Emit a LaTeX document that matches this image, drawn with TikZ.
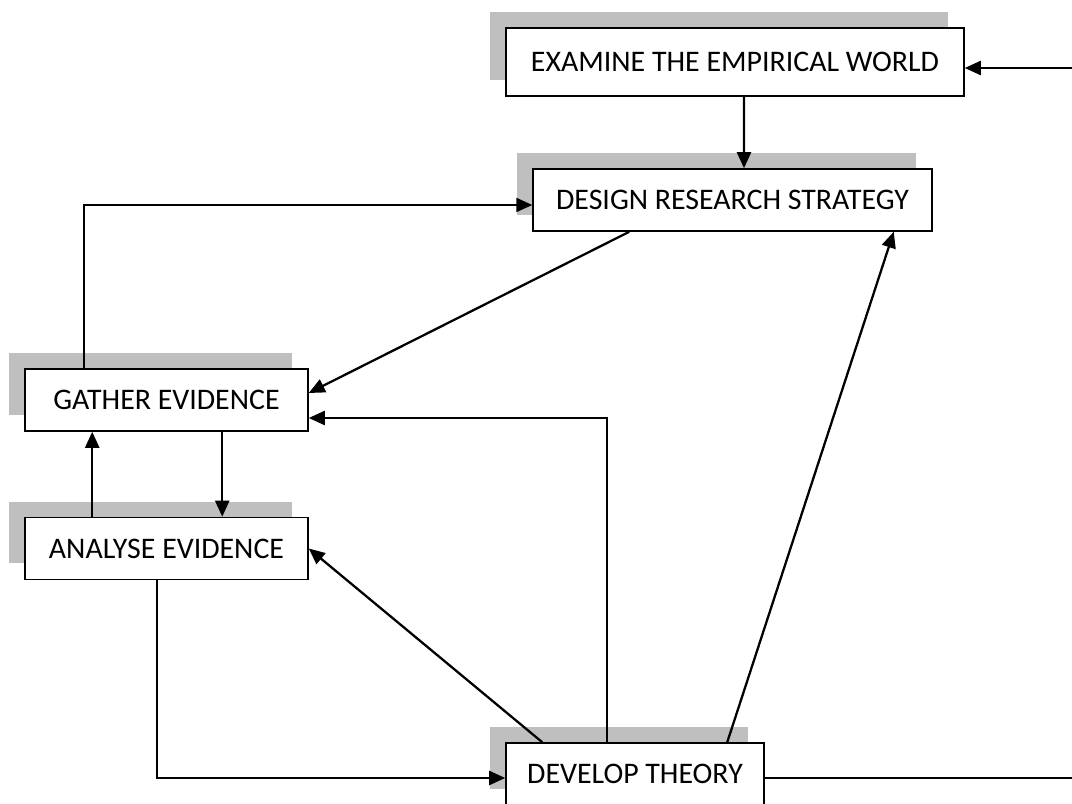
\documentclass[tikz,border=0pt]{standalone}
\usepackage{fontspec}
\setmainfont{Carlito}
\usetikzlibrary{calc}
\usetikzlibrary{shapes,arrows.meta,positioning,shadows}

\begin{document}
\begin{tikzpicture}[x=0.02cm, y=-0.02cm, auto]
    % Define block styles
    \tikzstyle{process} = [rectangle, minimum height=1.24cm, text centered, draw=black, line width=0.9pt, fill=white, font=\fontsize{17}{20}\selectfont, general shadow={fill=black!25, shadow xshift=-0.32cm, shadow yshift=0.32cm}]
    \tikzstyle{arrow} = [line width=1.3pt, -{Triangle[length=0.32cm, width=0.28cm]}]
    \tikzstyle{line} = [line width=1.3pt]

    \useasboundingbox (0,0) rectangle (1072,804);

    % Nodes
    \node (examine) [process, minimum width=9.16cm, minimum height=1.36cm] at (735,62) {EXAMINE THE EMPIRICAL WORLD};
    \node (design) [process, minimum width=7.98cm] at (732.5,200) {DESIGN RESEARCH STRATEGY};
    \node (gather) [process, minimum width=5.66cm] at (166.5,400) {GATHER EVIDENCE};
    \node (analyse) [process, minimum width=5.66cm] at (166.5,548.5) {ANALYSE EVIDENCE};
    \node (develop) [process, minimum width=5.16cm] at (635,774) {DEVELOP THEORY};

    % Free ends at the right margin
    \coordinate (rightin) at (1072,68);
    \coordinate (rightout) at (1072,778);

    % Arrows between nodes
    \draw [arrow] (rightin) -- (rightin -| examine.east);
    \draw [arrow] ($(examine.south)+(9,0)$) -- ($(design.north)+(11.5,0)$);
    \draw [arrow] ($(gather.north west)+(60,0)$) |- ($(design.west)+(0,5)$);
    \draw [arrow] ($(design.south west)+(97,0)$) -- ($(gather.east)+(0,-7)$);
    \draw [arrow] ($(develop.north west)+(102,0)$) |- ($(gather.east)+(0,18)$);
    \draw [arrow] ($(develop.north west)+(37,0)$) -- (analyse.east);
    \draw [arrow] ($(develop.north west)+(222,0)$) -- ($(design.south east)+(-39,0)$);
    \draw [arrow] ($(analyse.south west)+(133,0)$) |- ($(develop.west)+(0,4)$);
    \draw [line] ($(develop.east)+(0,4)$) -- (rightout);
    \draw [arrow] ($(gather.south west)+(198,0)$) -- ($(analyse.north west)+(198,0)$);
    \draw [arrow] ($(analyse.north west)+(68,0)$) -- ($(gather.south west)+(68,0)$);
\end{tikzpicture}
\end{document}
